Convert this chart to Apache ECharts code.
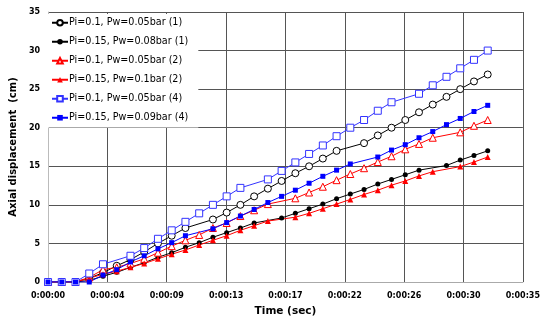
<!DOCTYPE html>
<html>
<head>
<meta charset="utf-8">
<script src="https://cdn.jsdelivr.net/npm/echarts@6/dist/echarts.min.js"></script>
<style>
  html, body { margin: 0; padding: 0; background: #fff; }
  #chart { width: 543px; height: 322px; }
</style>
</head>
<body>
<div id="chart"></div>
<script>
// time of each reading, seconds
const times = [0, 1, 2, 3, 4, 5, 6, 7, 8, 9, 10, 11, 12, 13, 14, 15, 16, 17, 18, 19, 20,
  21, 22, 23, 24, 25, 26, 27, 28, 29, 30, 31, 32];

// axial displacement (cm); null = no reading at that time
const open1 = [0, 0, 0, 0.5, 1.2, 2.1, 2.9, 3.9, 5.0, 6.0, 7.0, null, 8.1, 9.0, 10.0, 11.1, 12.1,
  13.1, 14.1, 15.0, 16.0, 17.0, null, 18.0, 19.0, 20.0, 21.0, 22.0, 23.0, 24.0, 25.0, 26.0, 26.9];
const filled1 = [0, 0, 0, 0.2, 0.75, 1.25, 1.9, 2.5, 3.2, 3.8, 4.5, 5.1, 5.8, 6.4, 7.0, 7.65, null,
  8.3, 8.9, 9.5, 10.1, 10.8, 11.4, 12.0, 12.7, 13.3, 13.9, 14.5, null, 15.1, 15.8, 16.4, 17.0];
const open2 = [0, 0, 0, 0.6, 1.6, 1.9, 2.4, 3.0, 3.8, 4.65, 5.4, 6.1, 7.0, 7.65, 8.55, 9.3, 10.1,
  null, 10.85, 11.6, 12.35, 13.2, 14.0, 14.75, 15.55, 16.3, 17.2, 17.9, 18.7, null, 19.4, 20.25, 21.0];
const filled2 = [0, 0, 0, 0.5, 1.0, 1.4, 1.9, 2.4, 3.0, 3.6, 4.15, 4.8, 5.4, 6.0, 6.7, 7.3, 7.9,
  null, 8.4, 8.9, 9.5, 10.1, 10.7, 11.35, 11.9, 12.55, 13.1, 13.75, 14.3, null, 14.96, 15.55, 16.2];
const open4 = [0, 0, 0, 1.1, 2.3, null, 3.4, 4.4, 5.6, 6.7, 7.8, 8.9, 10.0, 11.1, 12.2, null, 13.3,
  14.4, 15.5, 16.6, 17.7, 18.9, 20.0, 21.0, 22.2, 23.3, null, 24.4, 25.5, 26.6, 27.7, 28.8, 30.0];
const filled4 = [0, 0, 0, 0, 0.9, 1.6, 2.6, 3.4, 4.3, 5.1, 6.0, null, 6.9, 7.7, 8.55, 9.4, 10.3,
  11.1, 11.9, 12.8, 13.7, 14.5, 15.3, null, 16.2, 17.1, 17.8, 18.7, 19.5, 20.4, 21.2, 22.1, 22.9];

const seriesNames = [
  "Pi=0.1, Pw=0.05bar (1)",
  "Pi=0.15, Pw=0.08bar (1)",
  "Pi=0.1, Pw=0.05bar (2)",
  "Pi=0.15, Pw=0.1bar (2)",
  "Pi=0.1, Pw=0.05bar (4)",
  "Pi=0.15, Pw=0.09bar (4)",
];

// Excel time axis: 0.00005 day steps = 4.32 s
const xStep = 4.32;
const xMax = 34.56;

function pairs(values) {
  return times
    .map((t, i) => [t, values[i]])
    .filter((p) => p[1] !== null);
}

function fmtTime(sec) {
  const s = Math.round(sec);
  const mm = String(Math.floor(s / 60)).padStart(2, "0");
  const ss = String(s % 60).padStart(2, "0");
  return "0:" + mm + ":" + ss;
}

function makeSeries(name, values, color, symbol, size, hollow) {
  return {
    name: name,
    type: "line",
    data: pairs(values),
    symbol: symbol,
    symbolSize: size,
    showAllSymbol: true,
    lineStyle: { color: color, width: 1 },
    itemStyle: hollow
      ? { color: "#fff", borderColor: color, borderWidth: 1 }
      : { color: color, borderColor: color, borderWidth: 0 },
    emphasis: { disabled: true },
  };
}

const chart = echarts.init(document.getElementById("chart"));

chart.setOption({
  animation: false,
  backgroundColor: "#fff",
  textStyle: { fontFamily: "DejaVu Sans" },
  grid: { left: 40, right: 17, top: 12, bottom: 38 },
  legend: {
    orient: "vertical",
    left: 45,
    top: 14,
    padding: [3, 10, 4, 6],
    backgroundColor: "#fff",
    itemWidth: 16,
    itemHeight: 7,
    itemGap: 7.5,
    selectedMode: false,
    textStyle: { fontFamily: "DejaVu Sans", fontSize: 9.6, color: "#000", lineHeight: 11.5, padding: [0, 0, 0, -4] },
    data: seriesNames,
  },
  xAxis: {
    type: "value",
    min: 0,
    max: xMax,
    interval: xStep,
    name: "Time (sec)",
    nameLocation: "middle",
    nameGap: 24,
    nameTextStyle: { fontFamily: "DejaVu Sans", fontWeight: "bold", fontSize: 10.5, color: "#000" },
    axisLine: { show: true, lineStyle: { color: "#aaa", width: 1 } },
    axisTick: { show: false },
    axisLabel: {
      formatter: fmtTime,
      fontFamily: "DejaVu Sans",
      fontWeight: "bold",
      fontSize: 8,
      color: "#000",
      margin: 10,
    },
    splitLine: { show: true, lineStyle: { color: "#555", width: 1 } },
  },
  yAxis: {
    type: "value",
    min: 0,
    max: 35,
    interval: 5,
    name: "Axial displacement  (cm)",
    nameLocation: "middle",
    nameGap: 27,
    nameTextStyle: { fontFamily: "DejaVu Sans", fontWeight: "bold", fontSize: 10, color: "#000" },
    axisLine: { show: true, lineStyle: { color: "#bbb", width: 1 } },
    axisTick: { show: false },
    axisLabel: {
      fontFamily: "DejaVu Sans",
      fontWeight: "bold",
      fontSize: 8,
      color: "#000",
      margin: 8,
    },
    splitLine: { show: true, lineStyle: { color: "#555", width: 1 } },
  },
  series: [
    makeSeries(seriesNames[0], open1, "#000000", "circle", 7, true),
    makeSeries(seriesNames[1], filled1, "#000000", "circle", 5, false),
    makeSeries(seriesNames[2], open2, "#ff0000", "triangle", 7, true),
    makeSeries(seriesNames[3], filled2, "#ff0000", "triangle", 6, false),
    makeSeries(seriesNames[4], open4, "#3333ff", "rect", 7, true),
    makeSeries(seriesNames[5], filled4, "#0000ff", "rect", 5, false),
  ],
});
</script>
</body>
</html>
